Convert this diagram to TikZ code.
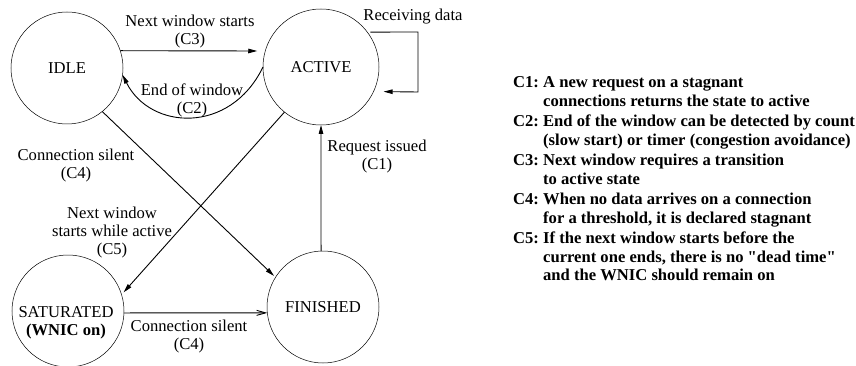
\documentclass[tikz,border=0pt]{standalone}
\usepackage{fontspec}
\setmainfont{Liberation Serif}[Ligatures=TeXOff]
\usetikzlibrary{arrows.meta}
\begin{document}
\begin{tikzpicture}[x=1pt,y=1pt,
  state/.style={circle, draw, line width=0.5pt, minimum size=112pt, inner sep=0pt, outer sep=0pt},
  lbl/.style={align=center, inner sep=0pt},
  arr/.style={line width=0.9pt, -{Triangle[length=9pt,width=4.5pt]}},
  oarr/.style={line width=0.9pt, -{Straight Barb[length=9pt,width=5pt]}},
  font=\fontsize{16.6}{18}\selectfont]
\useasboundingbox (0,0) rectangle (856,-366);
% states
\node[state] (idle) at (67,-68) {IDLE};
\node[state, minimum size=116pt] (active) at (321,-67) {ACTIVE};
\node[state] (fin) at (323,-307) {FINISHED};
\node[state] (sat) at (68,-311) {};
\node[lbl] (sattxt) at (66,-323) {SATURATED\\\textbf{(WNIC on)}};
% connectors
\draw[arr, shorten >=8pt] (idle.18) -- (active.164);
\draw[arr] (active.180) .. controls (230,-135) and (150,-130) .. (idle.-7);
\coordinate (lpa) at (418,-32);
\coordinate (lpb) at (418,-92);
\draw[arr, shorten >=10pt, shorten <=3pt] (active.37) -- (lpa) -- (lpb) -- (active.-25.5);
\draw[arr] (fin.92) -- (active.-90);
\draw[arr, shorten >=2pt] (idle.-51.5) -- (fin.148);
\draw[arr, shorten >=3pt] (active.-129) -- (sat.17);
\draw[oarr] (sat.-2) -- (fin.186);
% labels
\node[lbl] (l3) at (190,-32) {Next window starts\\(C3)};
\node[lbl] (l2) at (192,-100) {End of window\\(C2)};
\node[lbl] (lrd) at (413,-17) {Receiving data};
\node[lbl] (l1) at (377,-157) {Request issued\\(C1)};
\node[lbl] (l4a) at (76,-166) {Connection silent\\(C4)};
\node[lbl] (l5) at (112,-233) {Next window\\starts while active\\(C5)};
\node[lbl] (l4b) at (189,-337) {Connection silent\\(C4)};
% legend
\node[anchor=north west, inner sep=0pt, font=\bfseries\fontsize{16.6}{18.5}\selectfont] (legend) at (513,-74.5) {%
\begin{tabular}{@{}l@{\ }l@{}}
C1: & A new request on a stagnant\\
 & connections returns the state to active\\[2pt]
C2: & End of the window can be detected by count\\
 & (slow start) or timer (congestion avoidance)\\[2pt]
C3: & Next window requires a transition\\
 & to active state\\[2pt]
C4: & When no data arrives on a connection\\
 & for a threshold, it is declared stagnant\\[2pt]
C5: & If the next window starts before the\\
 & current one ends, there is no "dead time"\\
 & and the WNIC should remain on
\end{tabular}};
\end{tikzpicture}
\end{document}
